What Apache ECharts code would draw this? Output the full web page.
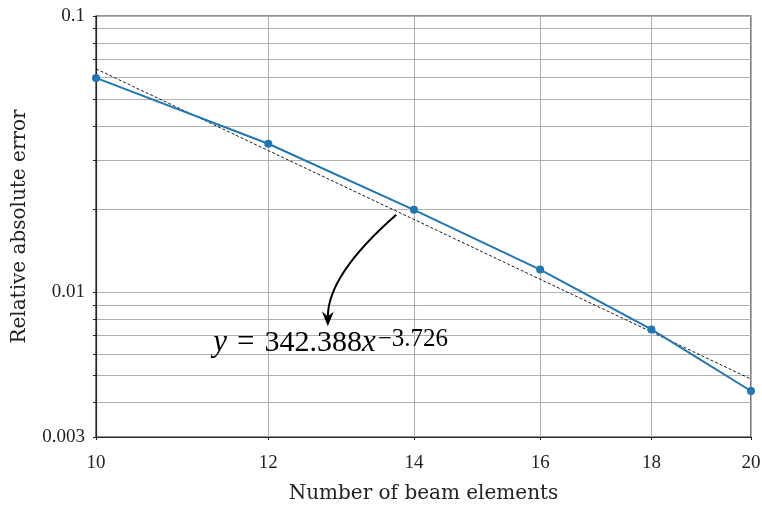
<!DOCTYPE html>
<html>
<head>
<meta charset="utf-8">
<script src="https://cdn.jsdelivr.net/npm/echarts@6/dist/echarts.min.js"></script>
<style>html,body{margin:0;padding:0;background:#fff;}#c{width:762px;height:507px;}</style>
</head>
<body>
<div id="c"></div>
<script>
// Data
const elements = [10, 12, 14, 16, 18, 20];
const relError = [0.0597, 0.0345, 0.0199, 0.0121, 0.00735, 0.0044];
// Power-law fit y = 342.388 x^-3.726 (values at the sample points)
const fitX = [10, 12, 14, 16, 18, 20];
const fitY = [0.0644, 0.0326, 0.01837, 0.01116, 0.0072, 0.00486];
const xTicks = [10, 12, 14, 16, 18, 20];
const yLabelTicks = [0.003, 0.01, 0.1];
const yGridTicks = [0.003, 0.004, 0.005, 0.006, 0.007, 0.008, 0.009, 0.01,
                    0.02, 0.03, 0.04, 0.05, 0.06, 0.07, 0.08, 0.09, 0.1];
const xTitle = 'Number of beam elements';
const yTitle = 'Relative absolute error';
const eqParts = ['y', '=', '342.388', 'x', '−3.726'];
const arrowStart = [13.74, 0.0191];
const arrowEnd = [12.78, 0.00754];
const labelPos = [11.32, 0.00659];

const FONT = 'Liberation Serif';
const TFONT = 'DejaVu Serif';
const chart = echarts.init(document.getElementById('c'), null, {renderer: 'canvas'});
const option = {
  animation: false,
  backgroundColor: '#fff',
  grid: {left: 96, right: 11, top: 16, bottom: 70, outerBoundsMode: 'none', containLabel: false,
         show: true, borderColor: '#262626', borderWidth: 1.2, backgroundColor: 'transparent'},
  xAxis: {
    type: 'log', logBase: 10, min: 10, max: 20,
    name: xTitle, nameLocation: 'middle', nameGap: 47,
    nameTextStyle: {fontFamily: TFONT, fontSize: 20, color: '#222'},
    axisLine: {show: true, lineStyle: {color: '#262626', width: 1.2}},
    axisTick: {show: true, inside: false, length: 3, customValues: xTicks, lineStyle: {color: '#262626'}},
    axisLabel: {customValues: xTicks, fontFamily: FONT, fontSize: 19, color: '#222', margin: 17, formatter: v => String(Math.round(v))},
    splitLine: {show: true, lineStyle: {color: '#b0b0b0', width: 1}},
    minorTick: {show: false}, minorSplitLine: {show: false}
  },
  yAxis: {
    type: 'log', logBase: 10, min: 0.003, max: 0.1,
    name: yTitle, nameLocation: 'middle', nameGap: 66,
    nameTextStyle: {fontFamily: TFONT, fontSize: 20, color: '#222'},
    axisLine: {show: true, lineStyle: {color: '#262626', width: 1.2}},
    axisTick: {show: true, inside: false, length: 3, customValues: yGridTicks, lineStyle: {color: '#262626'}},
    axisLabel: {customValues: yLabelTicks, fontFamily: FONT, fontSize: 19, color: '#222', margin: 11,
      formatter: v => (Math.abs(v - 0.003) < 1e-6 ? '0.003' : Math.abs(v - 0.01) < 1e-6 ? '0.01' : '0.1')},
    splitLine: {show: true, lineStyle: {color: '#b0b0b0', width: 1}},
    minorTick: {show: false}, minorSplitLine: {show: false}
  },
  series: [
    {
      type: 'line', name: 'fit', data: fitX.map((x, i) => [x, fitY[i]]),
      showSymbol: false, symbol: 'none', smooth: false,
      lineStyle: {color: '#000', width: 0.9, type: [3, 2]}, z: 3
    },
    {
      type: 'line', name: 'error', data: elements.map((x, i) => [x, relError[i]]),
      symbol: 'circle', symbolSize: 8, showSymbol: true,
      itemStyle: {color: '#1f77b4'}, lineStyle: {color: '#1f77b4', width: 2}, z: 4, clip: false
    }
  ]
};
chart.setOption(option);

function addAnnotation() {
  const s = chart.convertToPixel({gridIndex: 0}, arrowStart);
  const e = chart.convertToPixel({gridIndex: 0}, arrowEnd);
  const t = chart.convertToPixel({gridIndex: 0}, labelPos);
  const midx = (s[0] + e[0]) / 2, midy = (s[1] + e[1]) / 2;
  const cp = [midx - 34, midy + 4];
  const dx = e[0] - cp[0], dy = e[1] - cp[1];
  const L = Math.hypot(dx, dy);
  const ux = dx / L, uy = dy / L, px = -uy, py = ux;
  const hl = 15, hw = 6;
  const base = [e[0] - ux * hl, e[1] - uy * hl];
  const notch = [e[0] - ux * hl * 0.65, e[1] - uy * hl * 0.65];
  chart.setOption({
    graphic: [
      {type: 'bezierCurve', shape: {x1: s[0], y1: s[1], x2: notch[0], y2: notch[1], cpx1: cp[0], cpy1: cp[1]},
       style: {stroke: '#000', lineWidth: 2, fill: null}, z: 10},
      {type: 'polygon', shape: {points: [e, [base[0] + px * hw, base[1] + py * hw], notch, [base[0] - px * hw, base[1] - py * hw]]},
       style: {fill: '#000'}, z: 10},
      {type: 'text', x: t[0], y: t[1], z: 11,
       style: {text: '{i|' + eqParts[0] + '}{q|' + eqParts[1] + '}{m|' + eqParts[2] + '}{i|' + eqParts[3] + '}{e|' + eqParts[4] + '}',
         rich: {i: {fontFamily: FONT, fontSize: 31, fontStyle: 'italic', fill: '#000', verticalAlign: 'bottom'},
                q: {fontFamily: FONT, fontSize: 31, fill: '#000', verticalAlign: 'bottom', padding: [0, 10, 0, 10]},
                m: {fontFamily: FONT, fontSize: 30, fill: '#000', verticalAlign: 'bottom'},
                e: {fontFamily: FONT, fontSize: 25, fill: '#000', verticalAlign: 'top', padding: [0, 0, 6, 2]}},
         verticalAlign: 'middle', align: 'left'}}
    ]
  });
}
addAnnotation();
</script>
</body>
</html>
